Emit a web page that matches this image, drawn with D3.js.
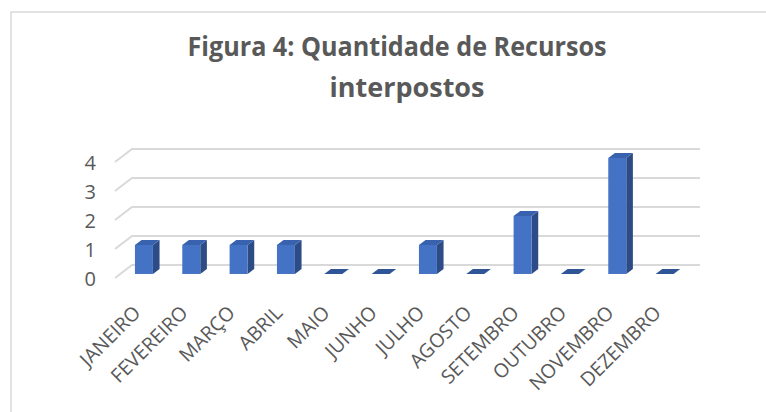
<!DOCTYPE html>
<html>
<head>
<meta charset="utf-8">
<script src="https://cdn.jsdelivr.net/npm/d3@7"></script>
<style>
  body { margin: 0; background: #fff; }
  svg { display: block; }
</style>
</head>
<body>
<div id="chart"></div>
<script>
// chart data
const months = ['JANEIRO', 'FEVEREIRO', 'MARÇO', 'ABRIL', 'MAIO', 'JUNHO',
  'JULHO', 'AGOSTO', 'SETEMBRO', 'OUTUBRO', 'NOVEMBRO', 'DEZEMBRO'];
const values = [1, 1, 1, 1, 0, 0, 1, 0, 2, 0, 4, 0];
const yTicks = [0, 1, 2, 3, 4];
const titleLines = ['Figura 4: Quantidade de Recursos', 'interpostos'];

const width = 766;
const height = 412;

// oblique depth of the 3d floor
const depth = { dx: 17, dy: -13 };
const z0 = 0.31, z1 = 0.7;

const svg = d3.select("#chart")
  .append("svg")
  .attr("width", width)
  .attr("height", height);

// chart border (runs off the right and bottom edge)
svg.append("rect")
  .attr("x", 11).attr("y", 12)
  .attr("width", 800).attr("height", 450)
  .attr("fill", "#fff")
  .attr("stroke", "#d9d9d9")
  .attr("stroke-width", 1.5);

// title
const title = svg.append("g")
  .attr("font-family", "'Open Sans', sans-serif")
  .attr("font-weight", "bold")
  .attr("font-size", 26)
  .attr("fill", "#595959")
  .attr("text-anchor", "middle");
title.append("text").attr("x", 397).attr("y", 56)
  .attr("textLength", 419).attr("lengthAdjust", "spacingAndGlyphs")
  .text(titleLines[0]);
title.append("text").attr("x", 407).attr("y", 97)
  .attr("textLength", 155).attr("lengthAdjust", "spacingAndGlyphs")
  .text(titleLines[1]);

// scales
const x = d3.scaleBand()
  .domain(months)
  .range([115, 683]);

const y = d3.scaleLinear()
  .domain([0, 4])
  .range([278, 162]);

// gridlines: left wall + back wall
const grid = svg.append("g")
  .attr("stroke", "#d9d9d9")
  .attr("stroke-width", 2)
  .attr("fill", "none");

grid.selectAll(".wall")
  .data(yTicks)
  .enter()
  .append("path")
  .attr("d", d => `M${x.range()[0]},${y(d)}`
    + `L${x.range()[0] + depth.dx},${y(d) + depth.dy}`
    + `L${x.range()[1] + depth.dx},${y(d) + depth.dy}`);

// bars
const bw = x.bandwidth();
const barW = bw * 0.38;
const sx = (z1 - z0) * depth.dx, sy = (z1 - z0) * depth.dy;

const bars = svg.selectAll(".bar")
  .data(months.map((m, i) => ({ m: m, v: values[i] })))
  .enter()
  .append("g")
  .attr("class", "bar");

bars.each(function (d) {
  const g = d3.select(this);
  const x0 = x(d.m) + (bw - barW) / 2 + z0 * depth.dx;
  const x1 = x0 + barW;
  const yb = y(0) + z0 * depth.dy;
  const yt = y(d.v) + z0 * depth.dy;
  if (d.v > 0) {
    g.append("path")
      .attr("d", `M${x1},${yb}L${x1 + sx},${yb + sy}L${x1 + sx},${yt + sy}L${x1},${yt}Z`)
      .attr("fill", "#2D4C86");
    g.append("rect")
      .attr("x", x0).attr("y", yt)
      .attr("width", barW).attr("height", yb - yt)
      .attr("fill", "#4472C4");
  }
  g.append("path")
    .attr("d", `M${x0},${yt}L${x1},${yt}L${x1 + sx},${yt + sy}L${x0 + sx},${yt + sy}Z`)
    .attr("fill", d.v > 0 ? "#3862AE" : "#2F5597");
});

// y axis labels
const yAxis = svg.append("g")
  .attr("transform", "translate(96, 0)")
  .call(d3.axisLeft(y).tickValues(yTicks).tickSize(0).tickPadding(0).tickFormat(d3.format("d")));
yAxis.select(".domain").remove();
yAxis.selectAll("text")
  .attr("font-family", "'Open Sans', sans-serif")
  .attr("font-size", 20)
  .attr("fill", "#595959")
  .attr("dy", "0.35em");

// x axis labels
const xAxis = svg.append("g")
  .attr("transform", "translate(3, 314)")
  .call(d3.axisBottom(x).tickSize(0).tickPadding(0));
xAxis.select(".domain").remove();
xAxis.selectAll("text")
  .attr("font-family", "'Open Sans', sans-serif")
  .attr("font-size", 19.5)
  .attr("fill", "#595959")
  .attr("text-anchor", "end")
  .attr("y", 0)
  .attr("dy", 0)
  .attr("transform", "rotate(-45)");
</script>
</body>
</html>
